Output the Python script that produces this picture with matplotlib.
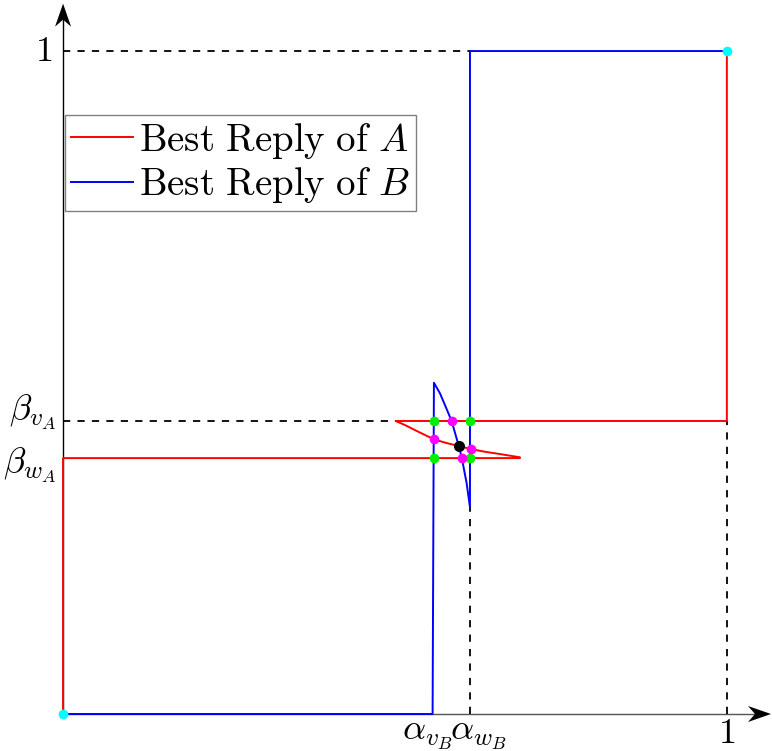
import matplotlib
matplotlib.use("Agg")
import matplotlib.pyplot as plt
from matplotlib.patches import Polygon

plt.rcParams['mathtext.fontset'] = 'cm'
plt.rcParams['font.family'] = 'serif'
plt.rcParams['font.serif'] = ['DejaVu Serif']

# thresholds
alpha_vB = 0.5587
alpha_wB = 0.613
beta_vA = 0.442
beta_wA = 0.386

# curved piece of A's best reply (left to right)
red_curve_x = [0.501, 0.515, 0.5351, 0.5587, 0.5779, 0.5964, 0.614, 0.6355, 0.6607, 0.6883]
red_curve_y = [0.442, 0.4359, 0.4258, 0.4143, 0.4087, 0.4042, 0.3997, 0.3956, 0.3917, 0.3872]

# curved piece of B's best reply (top to bottom)
blue_curve_x = [0.5587, 0.5678, 0.5753, 0.5854, 0.5964, 0.6005, 0.608, 0.613]
blue_curve_y = [0.4997, 0.4837, 0.4661, 0.4419, 0.4032, 0.3873, 0.348, 0.3118]

# full best reply paths
red_x = [0, 0, red_curve_x[-1]] + red_curve_x[::-1] + [1, 1]
red_y = [0, beta_wA, beta_wA] + red_curve_y[::-1] + [beta_vA, 1]
blue_x = [0, alpha_vB - 0.002] + blue_curve_x + [alpha_wB, 1]
blue_y = [0, 0] + blue_curve_y + [1, 1]

# marked points
green_x = [alpha_vB, alpha_wB, alpha_vB, alpha_wB]
green_y = [beta_vA, beta_vA, beta_wA, beta_wA]
magenta_x = [0.5854, 0.5587, 0.614, 0.6005]
magenta_y = [beta_vA, 0.4143, 0.3997, beta_wA]
black_x = [0.5964]
black_y = [0.4042]
cyan_x = [0, 1]
cyan_y = [0, 1]

fig = plt.figure(figsize=(7.72, 7.51), dpi=100)
ax = fig.add_axes([0, 0, 1, 1])
ax.set_xlim(-0.095, 1.068)
ax.set_ylim(-0.0558, 1.077)
ax.axis('off')

# axes lines with stealth arrow heads
px, py = 1 / 664, 1 / 663
xtip, ytip = 1.0665, 1.0715
ax.plot([0, xtip - 10 * px], [0, 0], color='#555555', lw=1.0, zorder=1)
ax.plot([0, 0], [0, ytip - 10 * py], color='black', lw=1.0, zorder=1)
ax.add_patch(Polygon([(xtip, 0), (xtip - 23 * px, 8 * py), (xtip - 16 * px, 0), (xtip - 23 * px, -8 * py)],
                     closed=True, color='black', lw=0, zorder=1))
ax.add_patch(Polygon([(0, ytip), (-8 * px, ytip - 23 * py), (0, ytip - 16 * py), (8 * px, ytip - 23 * py)],
                     closed=True, color='black', lw=0, zorder=1))

# dashed guides
dash = dict(color='black', lw=1.3, ls=(0, (4, 4)), zorder=2)
ax.plot([0, alpha_wB], [1, 1], **dash)
ax.plot([1, 1], [0, beta_vA], **dash)
ax.plot([0, red_curve_x[0]], [beta_vA, beta_vA], **dash)
ax.plot([alpha_wB, alpha_wB], [0, blue_curve_y[-1]], **dash)

ax.plot(red_x, red_y, color='red', lw=1.4, zorder=3, label=r'$\mathrm{Best\ Reply\ of}\ A$')
ax.plot(blue_x, blue_y, color='blue', lw=1.4, zorder=3, label=r'$\mathrm{Best\ Reply\ of}\ B$')

ax.plot(green_x, green_y, 'o', color='#00ee00', ms=7, mec='none', zorder=5)
ax.plot(magenta_x, magenta_y, 'o', color='magenta', ms=7, mec='none', zorder=5)
ax.plot(black_x, black_y, 'o', color='black', ms=8, mec='none', zorder=6)
ax.plot(cyan_x, cyan_y, 'o', color='cyan', ms=7, mec='none', zorder=5)

# labels
fs = 26
ax.text(1, -0.0545, r'$1$', ha='center', va='bottom', fontsize=fs)
ax.text(-0.016, 1, r'$1$', ha='right', va='center', fontsize=fs)
ax.text(-0.01, beta_vA + 0.013, r'$\beta_{v_A}$', ha='right', va='center', fontsize=fs)
ax.text(-0.01, beta_wA - 0.011, r'$\beta_{w_A}$', ha='right', va='center', fontsize=fs)
ax.text(alpha_vB - 0.01, -0.006, r'$\alpha_{v_B}$', ha='center', va='top', fontsize=fs)
ax.text(alpha_wB + 0.012, -0.006, r'$\alpha_{w_B}$', ha='center', va='top', fontsize=fs)

leg = ax.legend(loc='upper left', bbox_to_anchor=(0.0845, 0.847), fontsize=28, fancybox=False,
                edgecolor='gray', framealpha=1, handlelength=1.6, handletextpad=0.15,
                borderpad=0.15, labelspacing=0.12, borderaxespad=0, handleheight=0.7)
leg.get_frame().set_linewidth(1.0)

fig.savefig('out.png', dpi=100)
